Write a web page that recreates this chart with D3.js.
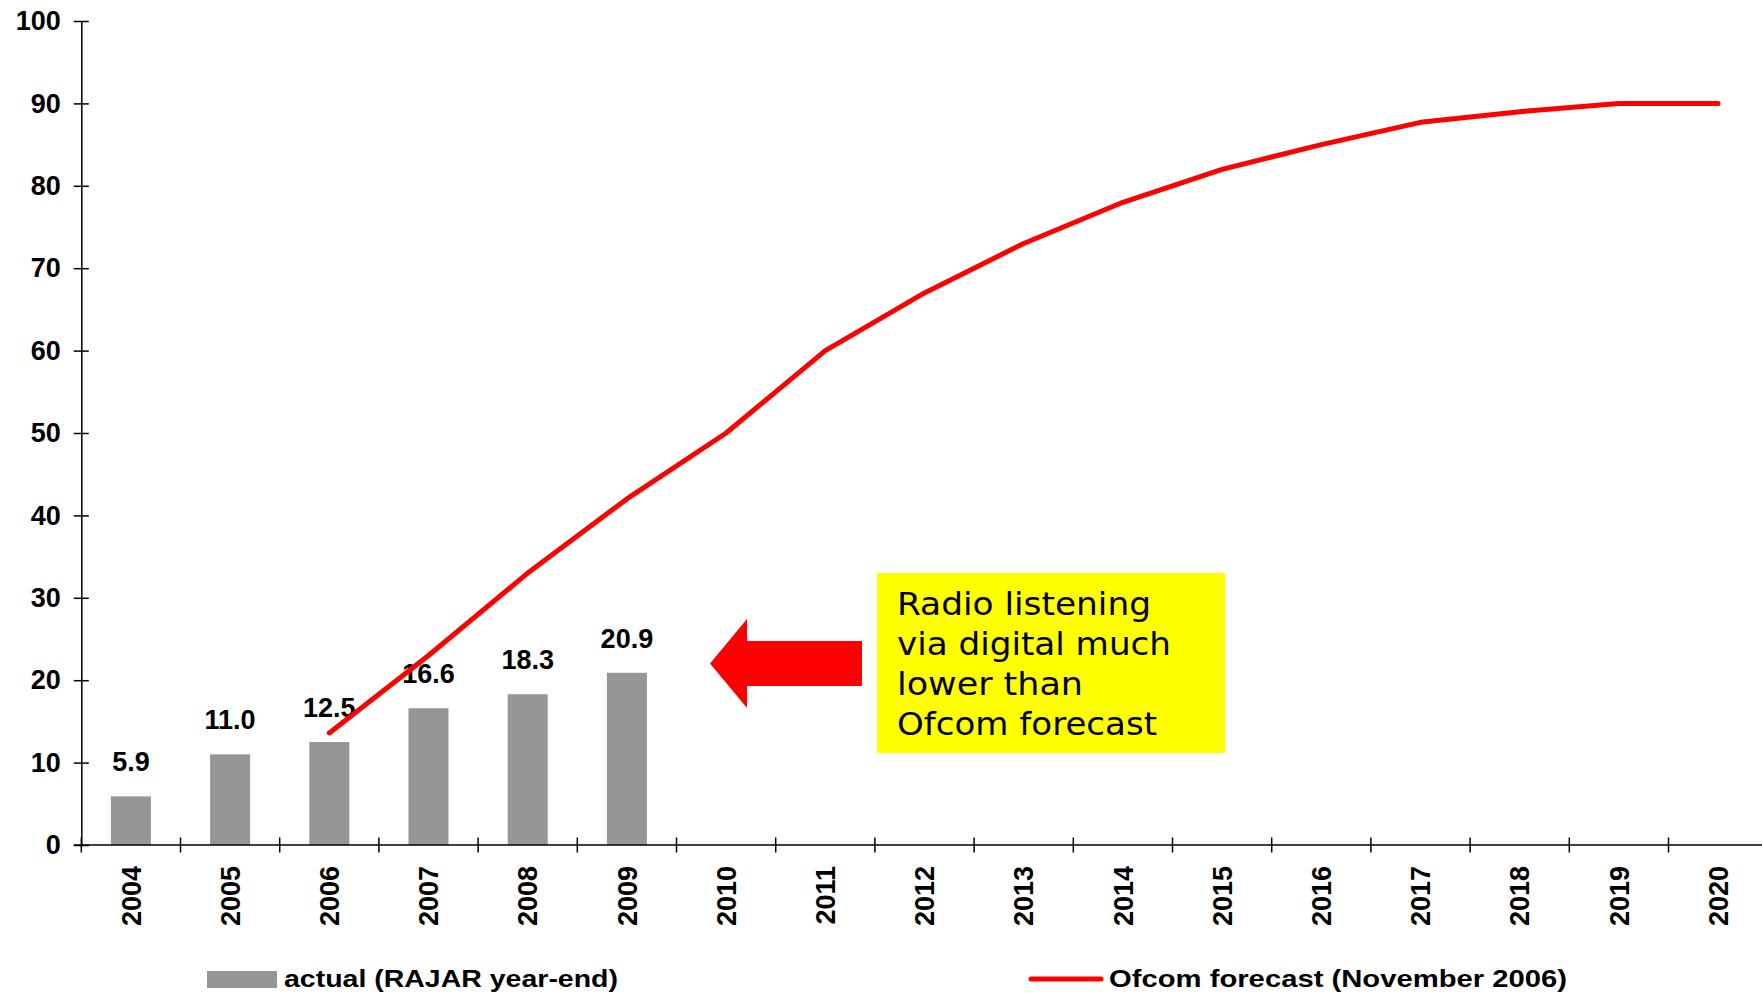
<!DOCTYPE html>
<html>
<head>
<meta charset="utf-8">
<script src="https://cdn.jsdelivr.net/npm/d3@7"></script>
<style>
  html, body { margin: 0; padding: 0; background: #fff; }
  svg { display: block; }
</style>
</head>
<body>
<svg id="chart" width="1762" height="993"></svg>
<script>
// ---- data ----
const years = ["2004","2005","2006","2007","2008","2009","2010","2011","2012","2013","2014","2015","2016","2017","2018","2019","2020"];
const actualYears = ["2004","2005","2006","2007","2008","2009"];
const actualValues = [5.9, 11.0, 12.5, 16.6, 18.3, 20.9];
const forecastYears = ["2006","2007","2008","2009","2010","2011","2012","2013","2014","2015","2016","2017","2018","2019","2020"];
const forecastValues = [13.6, 23, 33, 42, 50, 60, 67, 73, 78, 82, 85, 87.7, 89, 90, 90];
const yTicks = [0, 10, 20, 30, 40, 50, 60, 70, 80, 90, 100];
const legendLabels = ["actual (RAJAR year-end)", "Ofcom forecast (November 2006)"];
const noteLines = ["Radio listening", "via digital much", "lower than", "Ofcom forecast"];

// ---- layout ----
const svg = d3.select("#chart");
const x0 = 81.3, x1 = 1767.7, yBase = 845, yTop = 21;
const x = d3.scaleBand().domain(years).range([x0, x1]).padding(0);
const y = d3.scaleLinear().domain([0, 100]).range([yBase, yTop]);
const barW = 40;
const boldFont = "'Liberation Sans', Arial, sans-serif";
const numSize = 27;

// bars
svg.append("g").selectAll("rect").data(actualYears).join("rect")
  .attr("x", (d) => x(d) + x.bandwidth() / 2 - barW / 2)
  .attr("y", (d, i) => y(actualValues[i]))
  .attr("width", barW)
  .attr("height", (d, i) => yBase - y(actualValues[i]))
  .attr("fill", "#969696");

// bar labels
svg.append("g").selectAll("text").data(actualYears).join("text")
  .attr("x", (d) => x(d) + x.bandwidth() / 2)
  .attr("y", (d, i) => y(actualValues[i]) - 25)
  .attr("text-anchor", "middle")
  .attr("font-family", boldFont).attr("font-weight", "bold").attr("font-size", numSize)
  .attr("fill", "#000")
  .text((d, i) => actualValues[i].toFixed(1));

// forecast line
const line = d3.line()
  .x((d, i) => x(forecastYears[i]) + x.bandwidth() / 2)
  .y((d) => y(d));
svg.append("path").datum(forecastValues)
  .attr("d", line)
  .attr("fill", "none").attr("stroke", "#ff0000").attr("stroke-width", 5)
  .attr("stroke-linecap", "round").attr("stroke-linejoin", "round");

// y axis
const yAxis = svg.append("g").attr("transform", `translate(${x0},0)`)
  .call(d3.axisLeft(y).tickValues(yTicks).tickSize(7.5).tickSizeOuter(0).tickPadding(13));
yAxis.select(".domain").attr("stroke", "#000").attr("stroke-width", 1.5);
yAxis.selectAll(".tick line").attr("x1", 7.5).attr("stroke", "#000").attr("stroke-width", 1.5);
yAxis.selectAll(".tick text")
  .attr("font-family", boldFont).attr("font-weight", "bold").attr("font-size", numSize).attr("fill", "#000");

// x axis
const xAxis = svg.append("g").attr("transform", `translate(0,${yBase})`)
  .call(d3.axisBottom(x).tickSize(0).tickSizeOuter(0).tickPadding(0));
xAxis.select(".domain").remove();
xAxis.append("line").attr("x1", x0 - 7.5).attr("x2", x1).attr("y1", 0).attr("y2", 0)
  .attr("stroke", "#000").attr("stroke-width", 1.5);
const bounds = years.map((d) => x(d)).concat([x1]);
xAxis.selectAll(".bound").data(bounds).join("line").attr("class", "bound")
  .attr("x1", (d) => d).attr("x2", (d) => d).attr("y1", -7.5).attr("y2", 7.5)
  .attr("stroke", "#000").attr("stroke-width", 1.5);
xAxis.selectAll(".tick text")
  .attr("font-family", boldFont).attr("font-weight", "bold").attr("font-size", numSize).attr("fill", "#000")
  .attr("text-anchor", "end")
  .attr("transform", "translate(0,21) rotate(-90)")
  .attr("x", 0).attr("y", 0).attr("dy", "0.36em");

// annotation arrow
const arrow = d3.path();
arrow.moveTo(710, 663.5);
arrow.lineTo(747, 619);
arrow.lineTo(747, 641);
arrow.lineTo(862, 641);
arrow.lineTo(862, 686);
arrow.lineTo(747, 686);
arrow.lineTo(747, 708);
arrow.closePath();
svg.append("path").attr("d", arrow.toString()).attr("fill", "#ff0000");

// note box
svg.append("rect").attr("x", 877).attr("y", 573).attr("width", 348).attr("height", 180).attr("fill", "#ffff00");
const noteW = [254, 274, 186, 260];
svg.append("g").selectAll("text").data(noteLines).join("text")
  .attr("x", 897).attr("y", (d, i) => 615 + i * 40)
  .attr("font-family", "'DejaVu Sans', Verdana, sans-serif").attr("font-size", 32)
  .attr("textLength", (d, i) => noteW[i]).attr("lengthAdjust", "spacingAndGlyphs")
  .attr("fill", "#000")
  .text((d) => d);

// legend
const leg = svg.append("g");
leg.append("rect").attr("x", 207).attr("y", 971).attr("width", 70).attr("height", 17).attr("fill", "#969696");
leg.append("text").attr("x", 284).attr("y", 987)
  .attr("font-family", boldFont).attr("font-weight", "bold").attr("font-size", 24)
  .attr("textLength", 334).attr("lengthAdjust", "spacingAndGlyphs")
  .attr("fill", "#000").text(legendLabels[0]);
leg.append("line").attr("x1", 1031).attr("x2", 1101).attr("y1", 979).attr("y2", 979)
  .attr("stroke", "#ff0000").attr("stroke-width", 5).attr("stroke-linecap", "round");
leg.append("text").attr("x", 1109).attr("y", 987)
  .attr("font-family", boldFont).attr("font-weight", "bold").attr("font-size", 24)
  .attr("textLength", 458).attr("lengthAdjust", "spacingAndGlyphs")
  .attr("fill", "#000").text(legendLabels[1]);
</script>
</body>
</html>
